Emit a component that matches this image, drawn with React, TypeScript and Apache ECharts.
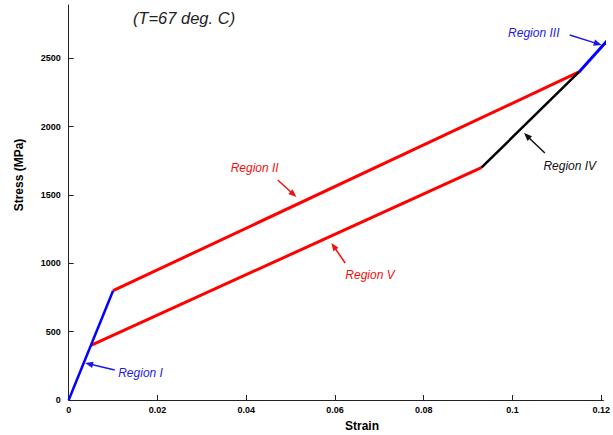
import React, { useEffect, useRef } from "react";
import * as echarts from "echarts";

// Data (strain, stress in MPa)
const regionI: [number, number][] = [[0, 0], [0.01, 800]];
const regionII: [number, number][] = [[0.01, 800], [0.115, 2400]];
const regionIII: [number, number][] = [[0.115, 2400], [0.1215, 2635]];
const regionIV: [number, number][] = [[0.093, 1700], [0.115, 2400]];
const regionV: [number, number][] = [[0.005, 400], [0.093, 1700]];

const xTicks = [0, 0.02, 0.04, 0.06, 0.08, 0.1, 0.12];
const yTicks = [0, 500, 1000, 1500, 2000, 2500];

// Annotations in data coordinates: label centre, arrow tail, arrow head
const annotations = [
  { text: "Region I", color: "#1a1ae6", label: [0.01619, 197], tail: [0.01036, 219], head: [0.0037, 271] },
  { text: "Region II", color: "#f01010", label: [0.0419, 1697], tail: [0.0471, 1610], head: [0.0513, 1485] },
  { text: "Region III", color: "#1a1ae6", label: [0.1048, 2685], tail: [0.1129, 2670], head: [0.1201, 2597] },
  { text: "Region IV", color: "#111111", label: [0.1129, 1712], tail: [0.1073, 1807], head: [0.1026, 1953] },
  { text: "Region V", color: "#f01010", label: [0.0679, 914], tail: [0.0623, 1002], head: [0.0592, 1149] },
];

export default function App() {
  const ref = useRef<HTMLDivElement>(null);
  useEffect(() => {
    document.body.style.margin = "0";
    if (!ref.current) return;
    const chart = echarts.init(ref.current, null, { renderer: "svg" });
    const axisText = { color: "#000", fontSize: 9, fontWeight: "bold" as const, fontFamily: "Liberation Sans, Arial, sans-serif" };
    const lineSeries = (data: [number, number][], color: string, width: number) => ({
      type: "line",
      data,
      symbol: "none",
      lineStyle: { color, width },
      clip: true,
      silent: true,
    });
    chart.setOption({
      animation: false,
      grid: { left: 68.7, right: 6, top: 5, bottom: 35 },
      xAxis: {
        type: "value",
        min: 0,
        max: 0.1205,
        interval: 0.02,
        splitLine: { show: false },
        axisLine: { lineStyle: { color: "#222", width: 1 } },
        axisTick: { inside: true, length: 5, lineStyle: { color: "#222" }, customValues: xTicks },
        axisLabel: { ...axisText, margin: 5, customValues: xTicks, formatter: (v: number) => String(+v.toFixed(2)) },
      },
      yAxis: {
        type: "value",
        min: 0,
        max: 2890,
        interval: 500,
        splitLine: { show: false },
        axisLine: { show: true, lineStyle: { color: "#222", width: 1 } },
        axisTick: { show: true, inside: true, length: 5, lineStyle: { color: "#222" }, customValues: yTicks },
        axisLabel: { ...axisText, margin: 8, customValues: yTicks, formatter: (v: number) => String(Math.round(v)) },
      },
      series: [
        lineSeries(regionII, "#ff0000", 3),
        lineSeries(regionV, "#ff0000", 3),
        lineSeries(regionIV, "#000000", 2.5),
        lineSeries(regionI, "#0000ff", 2.5),
        lineSeries(regionIII, "#0000ff", 3),
      ],
    });

    const px = (p: number[]) => chart.convertToPixel({ gridIndex: 0 }, p) as number[];
    const graphics: any[] = [];
    annotations.forEach((a) => {
      const l = px(a.label);
      const t = px(a.tail);
      const h = px(a.head);
      const dx = h[0] - t[0];
      const dy = h[1] - t[1];
      const len = Math.hypot(dx, dy);
      const ux = dx / len;
      const uy = dy / len;
      const nx = -uy;
      const ny = ux;
      const L = 8;
      const W = 3.2;
      graphics.push({
        type: "text",
        x: l[0],
        y: l[1],
        silent: true,
        style: {
          text: a.text,
          fill: a.color,
          fontSize: 12,
          fontStyle: "italic",
          fontFamily: "Liberation Sans, Arial, sans-serif",
          align: "center",
          verticalAlign: "middle",
        },
      });
      graphics.push({
        type: "line",
        silent: true,
        shape: { x1: t[0], y1: t[1], x2: h[0] - ux * L * 0.7, y2: h[1] - uy * L * 0.7 },
        style: { stroke: a.color, lineWidth: 1.5 },
      });
      graphics.push({
        type: "polygon",
        silent: true,
        shape: {
          points: [
            [h[0], h[1]],
            [h[0] - ux * L + nx * W, h[1] - uy * L + ny * W],
            [h[0] - ux * L - nx * W, h[1] - uy * L - ny * W],
          ],
        },
        style: { fill: a.color },
      });
    });
    graphics.push({
      type: "text",
      x: 184,
      y: 18,
      silent: true,
      style: {
        text: "(T=67 deg. C)",
        fill: "#222",
        fontSize: 16.5,
        fontStyle: "italic",
        fontFamily: "Liberation Sans, Arial, sans-serif",
        align: "center",
        verticalAlign: "middle",
      },
    });
    graphics.push({
      type: "text",
      x: 362,
      y: 425.5,
      silent: true,
      style: {
        text: "Strain",
        fill: "#000",
        fontSize: 12,
        fontWeight: "bold",
        fontFamily: "Liberation Sans, Arial, sans-serif",
        align: "center",
        verticalAlign: "middle",
      },
    });
    graphics.push({
      type: "text",
      x: 19,
      y: 175,
      rotation: Math.PI / 2,
      silent: true,
      style: {
        text: "Stress (MPa)",
        fill: "#000",
        fontSize: 12,
        fontWeight: "bold",
        fontFamily: "Liberation Sans, Arial, sans-serif",
        align: "center",
        verticalAlign: "middle",
      },
    });
    chart.setOption({ graphic: graphics });
    return () => chart.dispose();
  }, []);
  return <div ref={ref} style={{ width: 613, height: 435 }} />;
}
